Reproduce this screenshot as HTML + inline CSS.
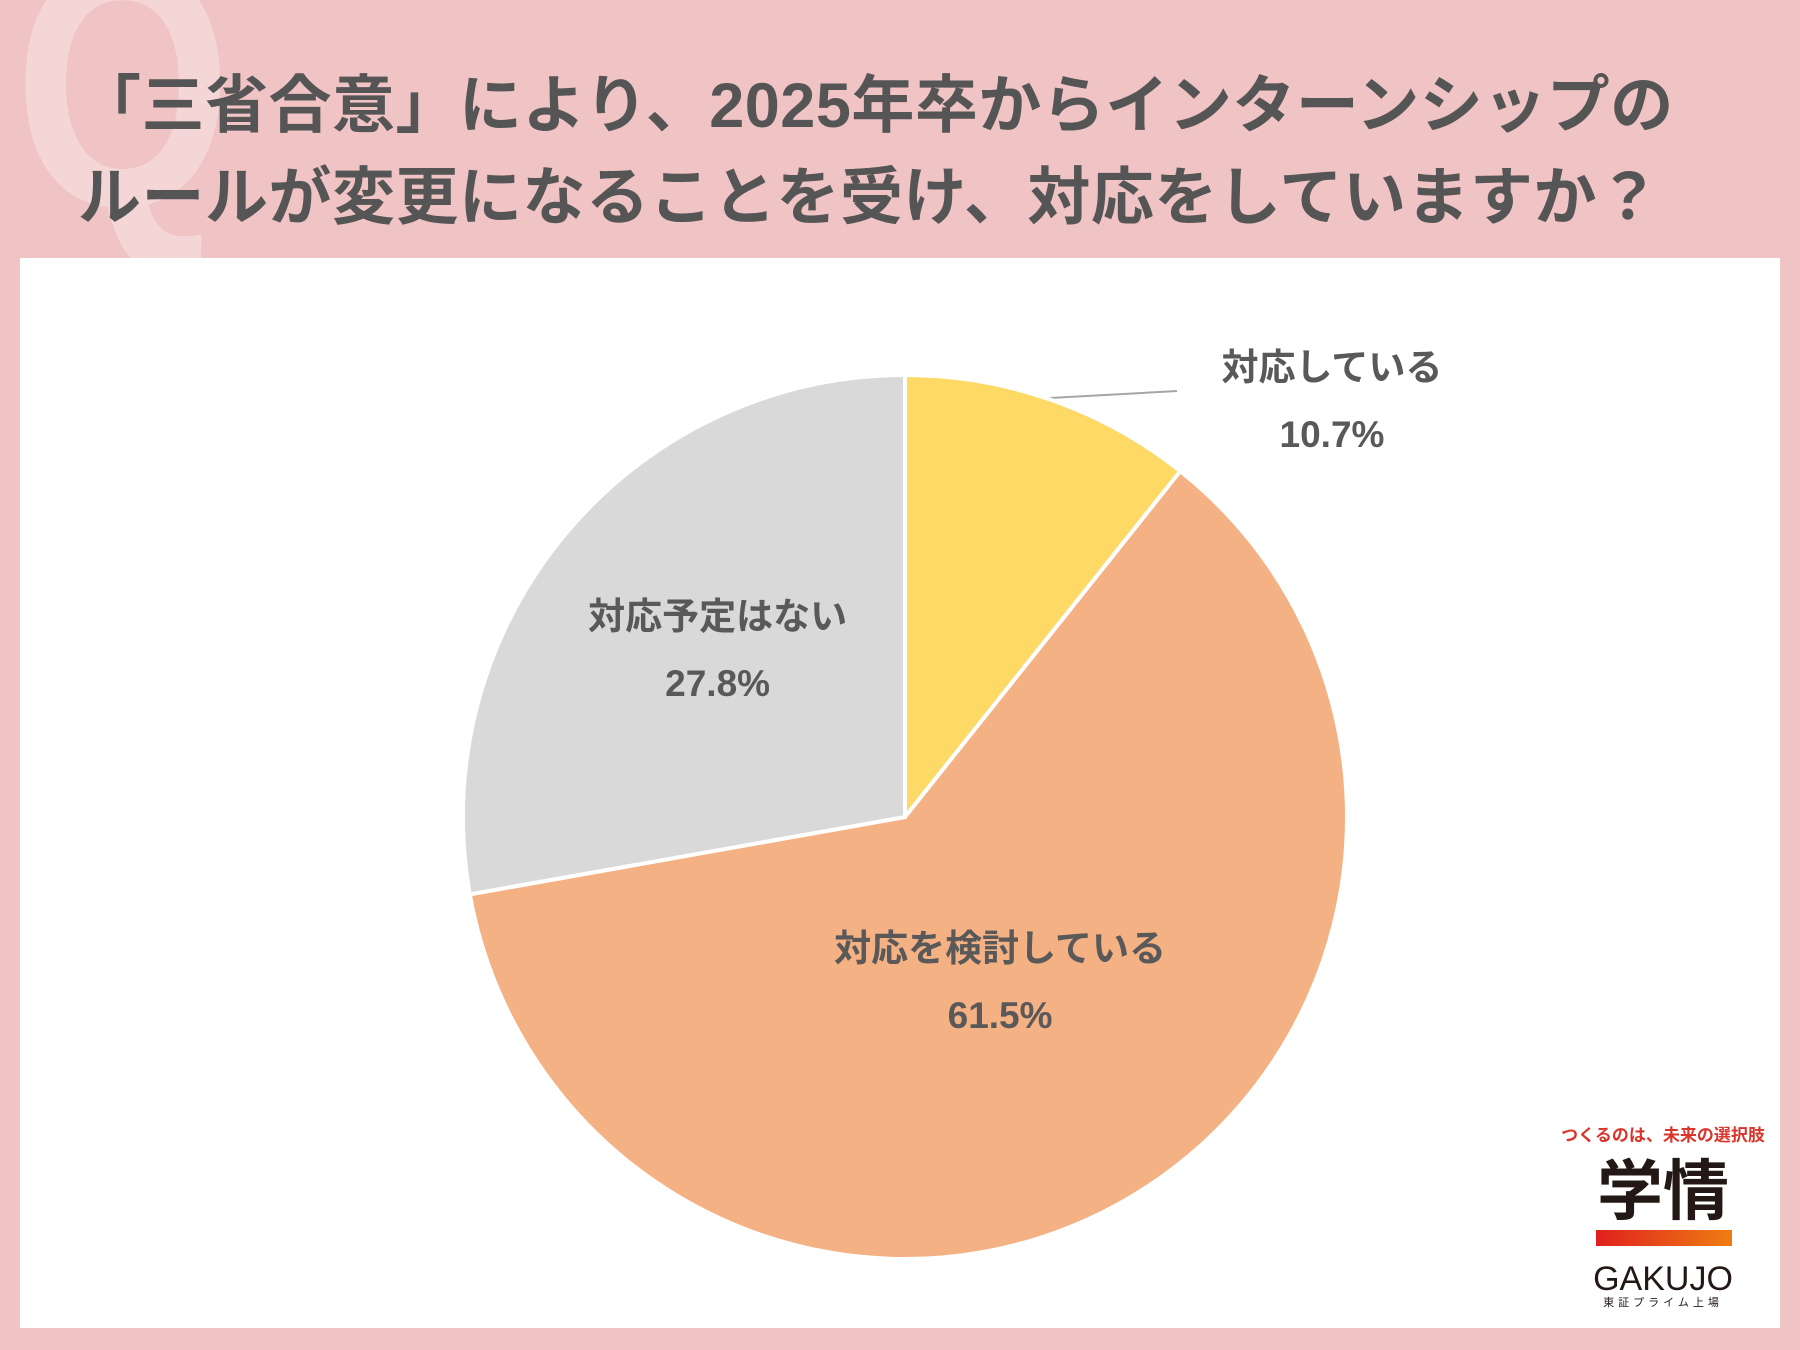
<!DOCTYPE html>
<html><head><meta charset="utf-8">
<style>
html,body{margin:0;padding:0}
body{width:1800px;height:1350px;background:#f0c3c4;position:relative;overflow:hidden;font-family:"Liberation Sans","Noto Sans CJK JP",sans-serif}
#q{position:absolute;left:14px;top:-90px;font-size:350px;font-weight:bold;color:#f5d6d7;line-height:1;transform:scaleX(0.8);transform-origin:0 0}
.title{position:absolute;left:78px;font-size:63px;font-weight:bold;color:#555;white-space:nowrap;font-family:"Liberation Sans","Noto Sans CJK JP",sans-serif;letter-spacing:0.5px}
#panel{position:absolute;left:20px;top:258px;width:1760px;height:1070px;background:#fff}
svg{position:absolute;left:0;top:0}
</style></head>
<body>
<div id="q">Q</div>
<div class="title" style="top:55px">「三省合意」により、2025年卒からインターンシップの</div>
<div class="title" style="top:147px">ルールが変更になることを受け、対応をしていますか？</div>
<div id="panel"></div>
<svg id="chart" width="1800" height="1350">
<defs><linearGradient id="g" x1="0" x2="1"><stop offset="0" stop-color="#e0201e"/><stop offset="1" stop-color="#ef7d12"/></linearGradient></defs>
<line x1="1050" y1="398" x2="1177" y2="391" stroke="#a6a6a6" stroke-width="2"/>
<g id="slices"></g>
<g id="labels" font-weight="bold" fill="#595959" font-size="37" text-anchor="middle" font-family="Liberation Sans, Noto Sans CJK JP, sans-serif"></g>
<g text-anchor="middle" font-family="Liberation Sans, Noto Sans CJK JP, sans-serif">
<text x="1663" y="1141" font-size="17" font-weight="bold" fill="#d9352b">つくるのは、未来の選択肢</text>
<text x="1663" y="1214" font-size="66" font-weight="bold" fill="#231815">学情</text>
<rect x="1596" y="1230" width="136" height="16" fill="url(#g)"/>
<text x="1663" y="1290" font-size="34" fill="#231815">GAKUJO</text>
<text x="1663" y="1306" font-size="11" fill="#231815" letter-spacing="4">東証プライム上場</text>
</g>
</svg>
<script>
const categories=["対応している","対応を検討している","対応予定はない"];
const values=[10.7,61.5,27.8];
const valueLabels=["10.7%","61.5%","27.8%"];
const colors=["#FFD966","#F4B183","#D9D9D9"];
const cx=905,cy=817,r=442;
const NS="http://www.w3.org/2000/svg";
const total=values.reduce((a,b)=>a+b,0);
const sg=document.getElementById('slices'),lg=document.getElementById('labels');
let a0=0;
function pt(a,rr){return [cx+rr*Math.sin(a),cy-rr*Math.cos(a)];}
values.forEach((v,i)=>{
  const a1=a0+v/total*2*Math.PI;
  const p0=pt(a0,r),p1=pt(a1,r);
  const large=(a1-a0)>Math.PI?1:0;
  const p=document.createElementNS(NS,'path');
  p.setAttribute('d',`M${cx},${cy}L${p0[0]},${p0[1]}A${r},${r} 0 ${large} 1 ${p1[0]},${p1[1]}Z`);
  p.setAttribute('fill',colors[i]);p.setAttribute('stroke','#fff');p.setAttribute('stroke-width','4');
  
  
  sg.appendChild(p);
  const mid=(a0+a1)/2;
  let lp;
  if(i===0){lp=[1332,380];}else{const q=pt(mid,r*0.5);lp=[q[0]-18,q[1]-46];}
  const t1=document.createElementNS(NS,'text');
  t1.setAttribute('x',lp[0]);t1.setAttribute('y',lp[1]);t1.textContent=categories[i];
  
  
  lg.appendChild(t1);
  const t2=document.createElementNS(NS,'text');
  t2.setAttribute('x',lp[0]);t2.setAttribute('y',lp[1]+67);t2.textContent=valueLabels[i];
  
  
  lg.appendChild(t2);
  a0=a1;
});
</script>
</body></html>
